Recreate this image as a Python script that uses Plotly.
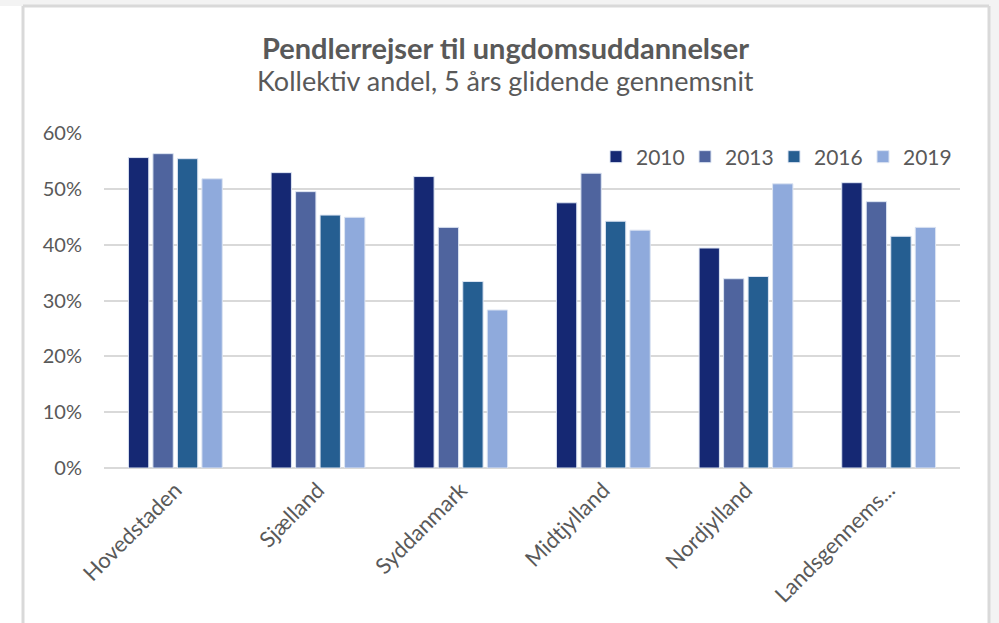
import plotly.graph_objects as go

categories = ["Hovedstaden", "Sjælland", "Syddanmark", "Midtjylland", "Nordjylland", "Landsgennems..."]
years = ["2010", "2013", "2016", "2019"]
v2010 = [55.6, 52.9, 52.2, 47.5, 39.4, 51.1]
v2013 = [56.3, 49.5, 43.1, 52.8, 33.9, 47.7]
v2016 = [55.4, 45.3, 33.4, 44.2, 34.3, 41.5]
v2019 = [51.8, 44.9, 28.3, 42.6, 50.9, 43.1]
series = [v2010, v2013, v2016, v2019]
colors = ["#152873", "#4F649E", "#255E91", "#8FAADC"]
yticks = [0, 10, 20, 30, 40, 50, 60]
ytick_labels = ["0%", "10%", "20%", "30%", "40%", "50%", "60%"]

W, H = 999, 623
L, R, T, B = 104, 39, 133, 155
pw, ph = W - L - R, H - T - B

def px(x):
    return (x - L) / pw

def py(y):
    return (H - B - y) / ph

FONT = "Lato"
GREY = "#595959"

fig = go.Figure()
for name, vals, c in zip(years, series, colors):
    fig.add_trace(go.Bar(x=categories, y=[v / 100 for v in vals], name=name,
                         marker=dict(color=c, line=dict(color="#DCE4F2", width=1))))

fig.update_layout(
    width=W, height=H,
    margin=dict(l=L, r=R, t=T, b=B, autoexpand=False),
    paper_bgcolor="white", plot_bgcolor="white",
    barmode="group", bargap=0.313, bargroupgap=0.17,
    font=dict(family=FONT, color=GREY, size=20),
    showlegend=True,
    legend=dict(orientation="h", x=px(952), xanchor="right", y=py(157), yanchor="middle",
                font=dict(size=21, color=GREY), bgcolor="rgba(0,0,0,0)",
                itemwidth=30, traceorder="normal", entrywidth=44, entrywidthmode="pixels"),
    xaxis=dict(tickangle=-45, tickfont=dict(size=22, color=GREY), showgrid=False,
               showline=False, ticks="", ticklabelstandoff=4),
    yaxis=dict(range=[0, 0.6], tickvals=[t / 100 for t in yticks], ticktext=ytick_labels,
               showgrid=True, gridcolor="#D9D9D9", gridwidth=1.5, zeroline=True,
               zerolinecolor="#D9D9D9", zerolinewidth=1.5, showline=False,
               tickfont=dict(size=20, color=GREY), ticklabelstandoff=21),
    annotations=[
        dict(text="<b>Pendlerrejser til ungdomsuddannelser</b>", x=px(505), y=py(48),
             xref="paper", yref="paper", showarrow=False, xanchor="center", yanchor="middle",
             font=dict(size=29, color=GREY, family=FONT)),
        dict(text="Kollektiv andel, 5 års glidende gennemsnit", x=px(505), y=py(81),
             xref="paper", yref="paper", showarrow=False, xanchor="center", yanchor="middle",
             font=dict(size=27, color=GREY, family=FONT)),
    ],
    shapes=[
        dict(type="rect", xref="paper", yref="paper", x0=px(0), x1=px(999), y0=py(0), y1=py(6),
             fillcolor="#F3F3F3", line=dict(width=0), layer="below"),
        dict(type="rect", xref="paper", yref="paper", x0=px(990), x1=px(999), y0=py(0), y1=py(623),
             fillcolor="#F3F3F3", line=dict(width=0), layer="below"),
        dict(type="line", xref="paper", yref="paper", x0=px(23), x1=px(989), y0=py(6), y1=py(6),
             line=dict(color="#D9D9D9", width=3), layer="below"),
        dict(type="line", xref="paper", yref="paper", x0=px(23), x1=px(23), y0=py(6), y1=py(623),
             line=dict(color="#D9D9D9", width=3), layer="below"),
        dict(type="line", xref="paper", yref="paper", x0=px(989), x1=px(989), y0=py(6), y1=py(623),
             line=dict(color="#D9D9D9", width=3), layer="below"),
    ],
)

fig.write_html("out.html", config={"displayModeBar": False},
               post_script="document.body.style.margin='0';document.body.style.padding='0';")
